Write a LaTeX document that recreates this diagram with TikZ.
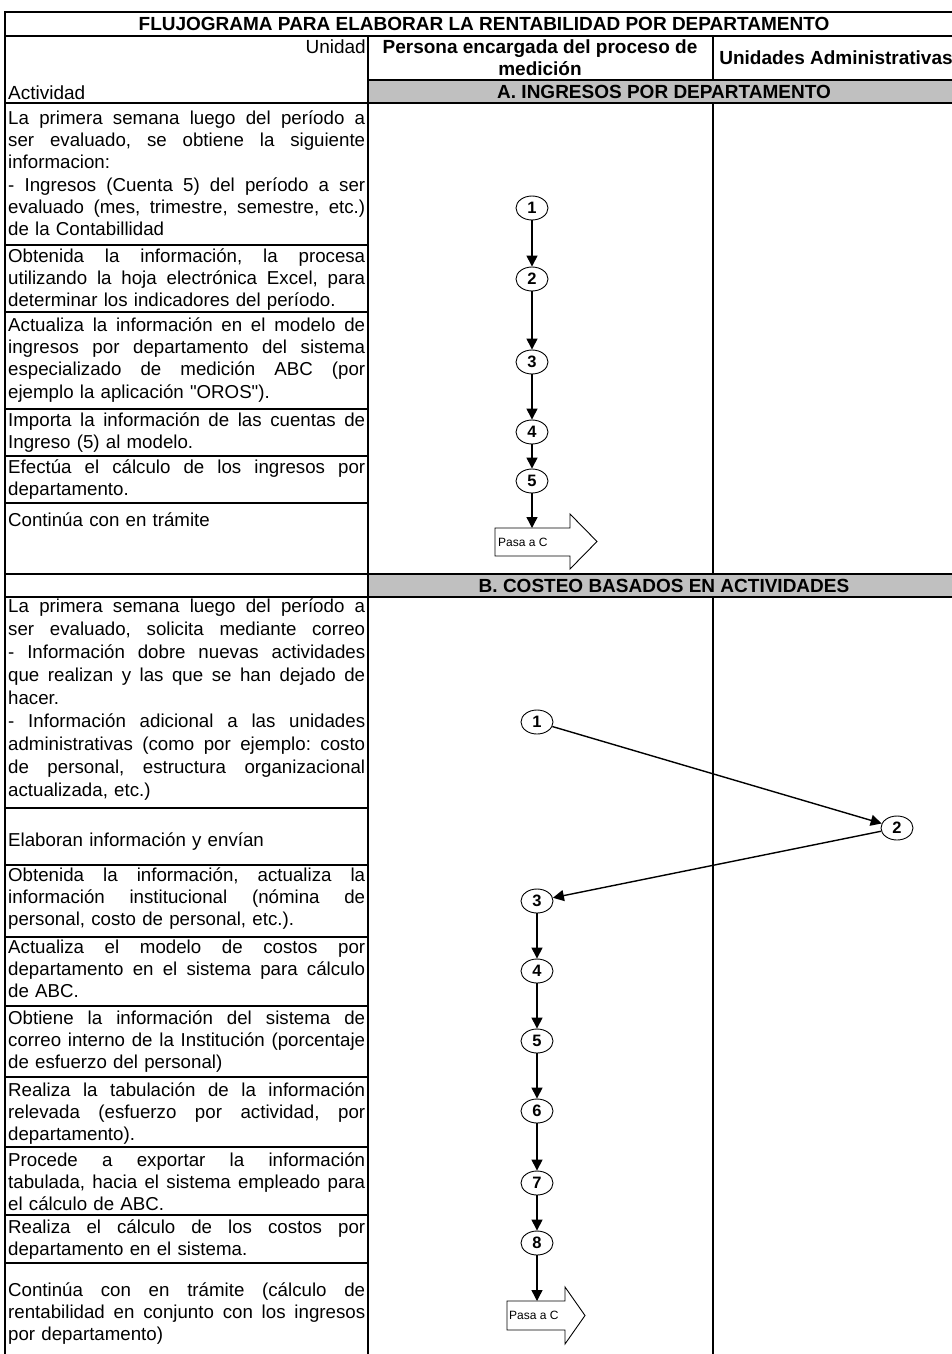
\documentclass[tikz,border=0pt]{standalone}
\usepackage{fontspec}
\setmainfont{Liberation Sans}[Ligatures=TeXOff]
\usetikzlibrary{arrows.meta,shapes.geometric}
\definecolor{bandgray}{RGB}{192,192,192}
\newcommand\jl[1]{\leavevmode\hbox to 357pt{\spaceskip=\fontdimen2\font plus 1fil minus \fontdimen4\font\relax\xspaceskip=\spaceskip #1}}
\newcommand\txtfont{\fontsize{18.7}{22.3}\selectfont\frenchspacing}
\newcommand\txtfontB{\fontsize{18.7}{23}\selectfont\frenchspacing}
\newcommand\hdrfont{\fontsize{19}{22}\selectfont}
\tolerance=9999 \hbadness=10000 \hfuzz=8pt
\begin{document}
\begin{tikzpicture}[x=1pt,y=-1pt,
  grid/.style={line width=2.3pt, line cap=rect},
  act/.style={anchor=north west, inner sep=0pt, text width=357pt, align=left, font=\txtfont},
  hdr/.style={inner sep=0pt, font=\hdrfont},
  hdrb/.style={inner sep=0pt, font=\hdrfont\bfseries},
  stepnum/.style={draw, ellipse, line width=0.9pt, minimum width=32pt, minimum height=24pt, inner sep=0pt, fill=white, font=\fontsize{16.5}{16.5}\selectfont\bfseries},
  conn/.style={line width=1.4pt, -{Triangle[length=11pt,width=11pt]}},
  pasashape/.style={draw, line width=0.9pt, fill=white},
  pasatxt/.style={inner sep=0pt, anchor=west, font=\fontsize{12}{12}\selectfont}
]
\useasboundingbox (0,0) rectangle (951,1354);
\fill[white] (0,0) rectangle (951,1354);
% gray bands
\fill[bandgray] (368,80) rectangle (960,103);
\fill[bandgray] (368,574) rectangle (960,597);
% grid
\draw[grid] (5,12) -- (960,12);
\draw[grid] (5,36) -- (960,36);
\draw[grid] (368,80) -- (960,80);
\draw[grid] (5,103) -- (960,103);
\foreach \yy in {245,312,409,456,503,808,865,937,1006,1077,1147,1215,1263}
  \draw[grid] (5,\yy) -- (368,\yy);
\draw[grid] (5,574) -- (960,574);
\draw[grid] (5,597) -- (960,597);
\draw[grid] (5,12) -- (5,1360);
\draw[grid] (368,36) -- (368,1360);
\draw[grid] (713,36) -- (713,80);
\draw[grid] (713,103) -- (713,574);
\draw[grid] (713,597) -- (713,1360);
% header texts
\node[hdrb] (title) at (484,24) {FLUJOGRAMA PARA ELABORAR LA RENTABILIDAD POR DEPARTAMENTO};
\node[hdr, anchor=east] (unidad) at (366,47) {Unidad};
\node[hdr, anchor=west] (actividad) at (8,93) {Actividad};
\node[hdrb, align=center] (persona) at (540,58) {Persona encargada del proceso de\\medición};
\node[hdrb] (unidades) at (836,58) {Unidades Administrativas};
\node[hdrb] (bandA) at (664,92) {A. INGRESOS POR DEPARTAMENTO};
\node[hdrb] (bandB) at (664,586) {B. COSTEO BASADOS EN ACTIVIDADES};
% activity texts, section A
\node[act] (tA1) at (8,108.4) {\strut\jl{La primera semana luego del período a}\\\jl{ser evaluado, se obtiene la siguiente}\\informacion:\\\jl{- Ingresos (Cuenta 5) del período a ser}\\\jl{evaluado (mes, trimestre, semestre, etc.)}\\de la Contabillidad};
\node[act] (tA2) at (8,246.4) {\strut\jl{Obtenida la información, la procesa}\\\jl{utilizando la hoja electrónica Excel, para}\\determinar los indicadores del período.};
\node[act] (tA3) at (8,315.4) {\strut\jl{Actualiza la información en el modelo de}\\\jl{ingresos por departamento del sistema}\\\jl{especializado de medición ABC (por}\\ejemplo la aplicación "OROS").};
\node[act] (tA4) at (8,410.4) {\strut\jl{Importa la información de las cuentas de}\\Ingreso (5) al modelo.};
\node[act] (tA5) at (8,457.4) {\strut\jl{Efectúa el cálculo de los ingresos por}\\departamento.};
\node[act] (tA6) at (8,510.4) {\strut Continúa con en trámite};
% activity texts, section B
\node[act, font=\txtfontB] (tB1) at (8,595.9) {\strut\jl{La primera semana luego del período a}\\\jl{ser evaluado, solicita mediante correo}\\\jl{- Información dobre nuevas actividades}\\\jl{que realizan y las que se han dejado de}\\hacer.\\\jl{- Información adicional a las unidades}\\\jl{administrativas (como por ejemplo: costo}\\\jl{de personal, estructura organizacional}\\actualizada, etc.)};
\node[act] (tB2) at (8,830.4) {\strut Elaboran información y envían};
\node[act] (tB3) at (8,865.4) {\strut\jl{Obtenida la información, actualiza la}\\\jl{información institucional (nómina de}\\personal, costo de personal, etc.).};
\node[act] (tB4) at (8,937.4) {\strut\jl{Actualiza el modelo de costos por}\\\jl{departamento en el sistema para cálculo}\\de ABC.};
\node[act] (tB5) at (8,1008.4) {\strut\jl{Obtiene la información del sistema de}\\\jl{correo interno de la Institución (porcentaje}\\de esfuerzo del personal)};
\node[act] (tB6) at (8,1080.4) {\strut\jl{Realiza la tabulación de la información}\\\jl{relevada (esfuerzo por actividad, por}\\departamento).};
\node[act] (tB7) at (8,1150.4) {\strut\jl{Procede a exportar la información}\\\jl{tabulada, hacia el sistema empleado para}\\el cálculo de ABC.};
\node[act] (tB8) at (8,1217.4) {\strut\jl{Realiza el cálculo de los costos por}\\departamento en el sistema.};
\node[act] (tB9) at (8,1280.4) {\strut\jl{Continúa con en trámite (cálculo de}\\\jl{rentabilidad en conjunto con los ingresos}\\por departamento)};
% section A flow
\node[stepnum] (a1) at (532,208) {1};
\node[stepnum] (a2) at (532,279) {2};
\node[stepnum] (a3) at (532,362) {3};
\node[stepnum] (a4) at (532,432) {4};
\node[stepnum] (a5) at (532,481) {5};
\draw[pasashape] (495,528) -- (570,528) -- (570,514) -- (597,541.5) -- (570,569) -- (570,556) -- (495,556) -- cycle;
\node[pasatxt] (pasaA) at (498,542) {Pasa a C};
\coordinate (pasaAin) at (532,528);
\draw[conn] (a1) -- (a2);
\draw[conn] (a2) -- (a3);
\draw[conn] (a3) -- (a4);
\draw[conn] (a4) -- (a5);
\draw[conn] (a5) -- (pasaAin);
% section B flow
\node[stepnum] (b1) at (537,722) {1};
\node[stepnum] (b2) at (897,828) {2};
\node[stepnum] (b3) at (537,901) {3};
\node[stepnum] (b4) at (537,971) {4};
\node[stepnum] (b5) at (537,1041) {5};
\node[stepnum] (b6) at (537,1111) {6};
\node[stepnum] (b7) at (537,1183) {7};
\node[stepnum] (b8) at (537,1243) {8};
\draw[pasashape] (507,1301) -- (565,1301) -- (565,1287) -- (585,1315.5) -- (565,1344) -- (565,1330) -- (507,1330) -- cycle;
\node[pasatxt] (pasaB) at (509,1315.5) {Pasa a C};
\coordinate (pasaBin) at (537,1301);
\draw[conn] (b1) -- (b2);
\draw[conn] (b2) -- (b3);
\draw[conn] (b3) -- (b4);
\draw[conn] (b4) -- (b5);
\draw[conn] (b5) -- (b6);
\draw[conn] (b6) -- (b7);
\draw[conn] (b7) -- (b8);
\draw[conn] (b8) -- (pasaBin);
\end{tikzpicture}
\end{document}
